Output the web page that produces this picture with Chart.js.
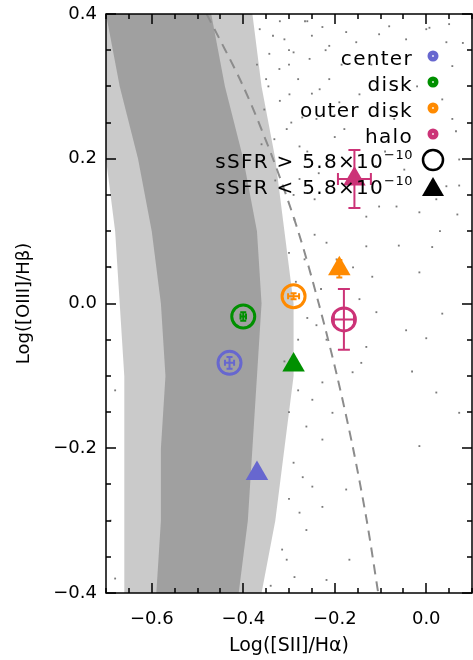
<!DOCTYPE html>
<html>
<head>
<meta charset="utf-8">
<script src="https://cdn.jsdelivr.net/npm/chart.js@4.4.1/dist/chart.umd.min.js"></script>
<style>
  html, body { margin: 0; padding: 0; background: #fff; }
  #wrap { width: 473px; height: 660px; }
</style>
</head>
<body>
<div id="wrap"><canvas id="bptChart"></canvas></div>
<script>
/* globals Chart:false */

// regions of the galaxy, in legend order
const regions = ['center', 'disk', 'outer disk', 'halo']

// sSFR > 5.8e-10 (open circles)
const highX = [-0.43, -0.40, -0.29, -0.18]
const highY = [-0.082, -0.018, 0.010, -0.022]
const highXErr = [0.010, 0.006, 0.012, 0.022]
const highYErr = [0.008, 0.006, 0.004, 0.042]

// sSFR < 5.8e-10 (filled triangles)
const lowX = [-0.37, -0.29, -0.19, -0.157]
const lowY = [-0.235, -0.085, 0.048, 0.172]
const lowXErr = [0, 0, 0.008, 0.036]
const lowYErr = [0, 0, 0.012, 0.040]

// SDSS cloud, edges read at fixed [OIII]/Hb levels
const cloudY = [0.4, 0.3, 0.2, 0.1, 0.0, -0.1, -0.2, -0.3, -0.4]
const outerLeft = [-0.70, -0.70, -0.70, -0.68, -0.67, -0.66, -0.66, -0.66, -0.66]
const outerRight = [-0.38, -0.36, -0.33, -0.31, -0.29, -0.29, -0.31, -0.33, -0.36]
const coreLeft = [-0.70, -0.67, -0.63, -0.60, -0.58, -0.57, -0.58, -0.58, -0.59]
const coreRight = [-0.47, -0.44, -0.40, -0.37, -0.36, -0.37, -0.38, -0.39, -0.41]

// sparse galaxies outside the cloud
const dotX = [-0.31, -0.29, -0.25, -0.227, -0.212, -0.175, -0.153, -0.103, -0.081, -0.044,
  0.0, 0.044, 0.057, 0.035, 0.057, 0.022, 0.072, -0.305, -0.277, -0.24,
  -0.212, -0.19, -0.103, -0.065, -0.015, 0.022, 0.044, -0.131, 0.007, 0.05,
  0.065, 0.072, 0.068, 0.013, -0.015, 0.035, -0.044, 0.0, -0.031, 0.022,
  0.072, -0.015, -0.218, -0.196, -0.131, -0.118, -0.146, -0.109, -0.218, -0.131,
  -0.161, -0.227, -0.249, -0.205, -0.262, -0.142, -0.227, -0.249, -0.175, -0.227,
  -0.277, -0.262, -0.168, -0.305, -0.288, -0.218, -0.364, -0.343, -0.321, -0.354,
  -0.299, -0.271, -0.332, -0.255, -0.233, -0.277, -0.244, -0.288, -0.266, -0.244,
  -0.212, -0.179, -0.146, -0.07, -0.048, -0.27, -0.28, -0.26, -0.29, -0.30,
  -0.69, -0.68, -0.69, -0.68, -0.12, -0.09, -0.02, 0.03, -0.26, -0.20,
  -0.16, -0.11, -0.06, 0.08, -0.23, -0.30, -0.35, -0.32,
  -0.37, -0.36, -0.345, -0.335, -0.33, -0.32, -0.315, -0.30, -0.295, -0.29,
  -0.28, -0.265, -0.26, -0.25, -0.235, -0.22, -0.20, -0.185, -0.30, -0.285,
  -0.31, -0.30, -0.315, -0.28, -0.27, -0.24, -0.34]
const dotY = [0.365, 0.347, 0.37, 0.382, 0.356, 0.375, 0.361, 0.372, 0.383, 0.365,
  0.379, 0.361, 0.328, 0.282, 0.255, 0.231, 0.199, 0.241, 0.217, 0.255,
  0.31, 0.278, 0.134, 0.134, 0.126, 0.144, 0.162, 0.12, 0.381, 0.386,
  0.238, 0.163, 0.123, 0.078, 0.043, -0.014, -0.037, -0.048, -0.094, -0.123,
  -0.151, -0.197, 0.084, 0.061, 0.079, 0.037, 0.006, -0.012, -0.05, -0.06,
  -0.095, -0.109, -0.133, -0.151, -0.17, -0.082, -0.188, -0.253, -0.257, -0.281,
  -0.289, -0.313, -0.354, -0.354, -0.378, -0.382, 0.379, 0.345, 0.324, 0.268,
  0.289, 0.257, 0.227, 0.338, 0.296, 0.172, 0.144, 0.116, 0.061, 0.095,
  0.199, 0.241, 0.289, 0.255, 0.185, 0.0, -0.05, -0.02, -0.22, -0.15,
  -0.3, -0.12, 0.05, -0.38, 0.33, 0.21, 0.30, 0.10, 0.39, 0.23,
  0.05, 0.19, 0.08, 0.36, 0.02, 0.33, 0.31, 0.39,
  0.33, 0.22, 0.30, 0.37, 0.17, 0.28, 0.20, 0.35, 0.25, 0.15,
  0.31, 0.39, 0.21, 0.29, 0.18, 0.35, 0.26, 0.33, 0.07, 0.03,
  -0.08, -0.27, -0.34, -0.12, -0.24, -0.03, -0.39]

// demarcation line, read along the dashes
const dashX = [-0.48, -0.40, -0.335, -0.28, -0.235, -0.195, -0.16, -0.13, -0.105]
const dashY = [0.4, 0.3, 0.2, 0.1, 0.0, -0.1, -0.2, -0.3, -0.4]

const regionColors = ['#6767cf', '#009000', '#ff8a00', '#cc3377']

const pts = (xs, ys) => xs.map((x, i) => ({ x, y: ys[i] }))
const band = (left, right) => pts(left, cloudY).concat(pts(right, cloudY).reverse())

const isMajor = v => Math.abs(v / 0.2 - Math.round(v / 0.2)) < 1e-6
const fmt = v => {
  if (!isMajor(v)) return ''
  return (Math.round(v * 10) / 10).toFixed(1).replace('-', '\u2212')
}

Chart.defaults.font.family = '"DejaVu Sans", sans-serif'
Chart.defaults.color = '#000'

const datasets = [
  {
    label: 'cloud',
    data: band(outerLeft, outerRight),
    showLine: true,
    fill: 'shape',
    backgroundColor: 'rgba(150, 150, 150, 0.5)',
    borderWidth: 0,
    pointRadius: 0,
    order: 10
  },
  {
    label: 'core',
    data: band(coreLeft, coreRight),
    showLine: true,
    fill: 'shape',
    backgroundColor: 'rgba(150, 150, 150, 0.8)',
    borderWidth: 0,
    pointRadius: 0,
    order: 9
  },
  {
    label: 'dots',
    data: pts(dotX, dotY),
    pointStyle: 'rect',
    pointRadius: 1.3,
    backgroundColor: '#7a7a7a',
    borderWidth: 0,
    order: 8
  },
  {
    label: 'demarcation',
    data: pts(dashX, dashY),
    showLine: true,
    borderColor: '#8c8c8c',
    borderWidth: 2,
    borderDash: [10, 7],
    tension: 0.3,
    pointRadius: 0,
    order: 7
  }
]

regions.forEach((name, i) => {
  datasets.push({
    label: name + ' high',
    data: [{ x: highX[i], y: highY[i] }],
    pointStyle: 'circle',
    pointRadius: 11.5,
    borderWidth: 3,
    borderColor: regionColors[i],
    backgroundColor: 'rgba(0, 0, 0, 0)',
    order: 2
  })
  datasets.push({
    label: name + ' low',
    data: [{ x: lowX[i], y: lowY[i] }],
    pointStyle: 'triangle',
    pointRadius: 13,
    borderWidth: 0,
    backgroundColor: regionColors[i],
    order: 1
  })
})

const errorBars = {
  id: 'errorBars',
  afterDatasetsDraw(chart) {
    const { ctx, scales: { x, y } } = chart
    const draw = (px, py, ex, ey, color) => {
      const cx = x.getPixelForValue(px)
      const cy = y.getPixelForValue(py)
      const cap = ey > 0.02 || ex > 0.02 ? 6 : 3
      ctx.strokeStyle = color
      ctx.lineWidth = 2
      ctx.beginPath()
      if (ex > 0) {
        const l = x.getPixelForValue(px - ex)
        const r = x.getPixelForValue(px + ex)
        ctx.moveTo(l, cy); ctx.lineTo(r, cy)
        ctx.moveTo(l, cy - cap); ctx.lineTo(l, cy + cap)
        ctx.moveTo(r, cy - cap); ctx.lineTo(r, cy + cap)
      }
      if (ey > 0) {
        const t = y.getPixelForValue(py + ey)
        const b = y.getPixelForValue(py - ey)
        ctx.moveTo(cx, t); ctx.lineTo(cx, b)
        ctx.moveTo(cx - cap, t); ctx.lineTo(cx + cap, t)
        ctx.moveTo(cx - cap, b); ctx.lineTo(cx + cap, b)
      }
      ctx.stroke()
    }
    ctx.save()
    regions.forEach((name, i) => {
      draw(highX[i], highY[i], highXErr[i], highYErr[i], regionColors[i])
      draw(lowX[i], lowY[i], lowXErr[i], lowYErr[i], regionColors[i])
    })
    ctx.restore()
  }
}

const frame = {
  id: 'frame',
  afterDraw(chart) {
    const { ctx, chartArea: a, scales: { x, y } } = chart
    ctx.save()
    ctx.strokeStyle = '#000'
    ctx.lineWidth = 1.5
    ctx.strokeRect(a.left, a.top, a.right - a.left, a.bottom - a.top)
    ctx.beginPath()
    x.ticks.forEach(t => {
      const px = Math.round(x.getPixelForValue(t.value))
      const len = isMajor(t.value) ? 10 : 5
      ctx.moveTo(px, a.bottom); ctx.lineTo(px, a.bottom - len)
      ctx.moveTo(px, a.top); ctx.lineTo(px, a.top + len)
    })
    y.ticks.forEach(t => {
      const py = Math.round(y.getPixelForValue(t.value))
      const len = isMajor(t.value) ? 10 : 5
      ctx.moveTo(a.left, py); ctx.lineTo(a.left + len, py)
      ctx.moveTo(a.right, py); ctx.lineTo(a.right - len, py)
    })
    ctx.stroke()

    // legend, text right-aligned with the symbol to its right
    const textRight = 413
    const symX = 433
    ctx.textAlign = 'right'
    ctx.textBaseline = 'alphabetic'
    ctx.letterSpacing = '1.3px'
    ctx.font = '20px "DejaVu Sans"'
    regions.forEach((name, i) => {
      const base = 65 + i * 26
      ctx.fillStyle = '#000'
      ctx.fillText(name, textRight, base)
      ctx.beginPath()
      ctx.arc(symX, base - 9, 5.5, 0, Math.PI * 2)
      ctx.fillStyle = regionColors[i]
      ctx.fill()
      ctx.fillStyle = '#fff'
      ctx.fillRect(symX - 0.8, base - 9.8, 1.6, 1.6)
    })
    const ssfr = ['sSFR > 5.8\u00d710', 'sSFR < 5.8\u00d710']
    ssfr.forEach((txt, i) => {
      const base = 168 + i * 26
      ctx.fillStyle = '#000'
      ctx.font = '13px "DejaVu Sans"'
      ctx.letterSpacing = '0.5px'
      const sup = '\u221210'
      const supW = ctx.measureText(sup).width
      ctx.fillText(sup, textRight, base - 9)
      ctx.font = '20px "DejaVu Sans"'
      ctx.letterSpacing = '1.3px'
      ctx.fillText(txt, textRight - supW, base)
    })
    ctx.lineWidth = 2.5
    ctx.beginPath()
    ctx.arc(symX, 160, 10, 0, Math.PI * 2)
    ctx.stroke()
    ctx.beginPath()
    ctx.moveTo(symX, 177)
    ctx.lineTo(symX + 11, 196)
    ctx.lineTo(symX - 11, 196)
    ctx.closePath()
    ctx.fill()
    ctx.restore()
  }
}

// eslint-disable-next-line no-unused-vars
const bptChart = new Chart(document.getElementById('bptChart'), {
  type: 'scatter',
  data: { datasets },
  options: {
    responsive: true,
    maintainAspectRatio: false,
    animation: false,
    layout: {
      autoPadding: false,
      padding: { top: 14, right: 1, left: 0, bottom: 0 }
    },
    plugins: {
      legend: { display: false },
      tooltip: { enabled: false }
    },
    scales: {
      x: {
        type: 'linear',
        min: -0.7,
        max: 0.1,
        afterFit: s => {
          s.height = 67
          s.paddingLeft = 0
          s.paddingRight = 0
        },
        grid: { display: false, drawTicks: false },
        border: { display: false },
        ticks: {
          stepSize: 0.05,
          autoSkip: false,
          maxRotation: 0,
          padding: 16,
          font: { size: 18 },
          callback: v => fmt(v)
        },
        title: {
          display: true,
          text: 'Log([SII]/H\u03b1)',
          font: { size: 19 },
          padding: { top: 0, bottom: 3 }
        }
      },
      y: {
        type: 'linear',
        min: -0.4,
        max: 0.4,
        afterFit: s => {
          s.width = 106
          s.paddingTop = 0
          s.paddingBottom = 0
        },
        grid: { display: false, drawTicks: false },
        border: { display: false },
        ticks: {
          stepSize: 0.05,
          autoSkip: false,
          padding: 9,
          font: { size: 18 },
          callback: v => fmt(v)
        },
        title: {
          display: true,
          text: 'Log([OIII]/H\u03b2)',
          font: { size: 18 },
          padding: { top: 14, bottom: 0 }
        }
      }
    }
  },
  plugins: [errorBars, frame]
})
</script>
</body>
</html>
